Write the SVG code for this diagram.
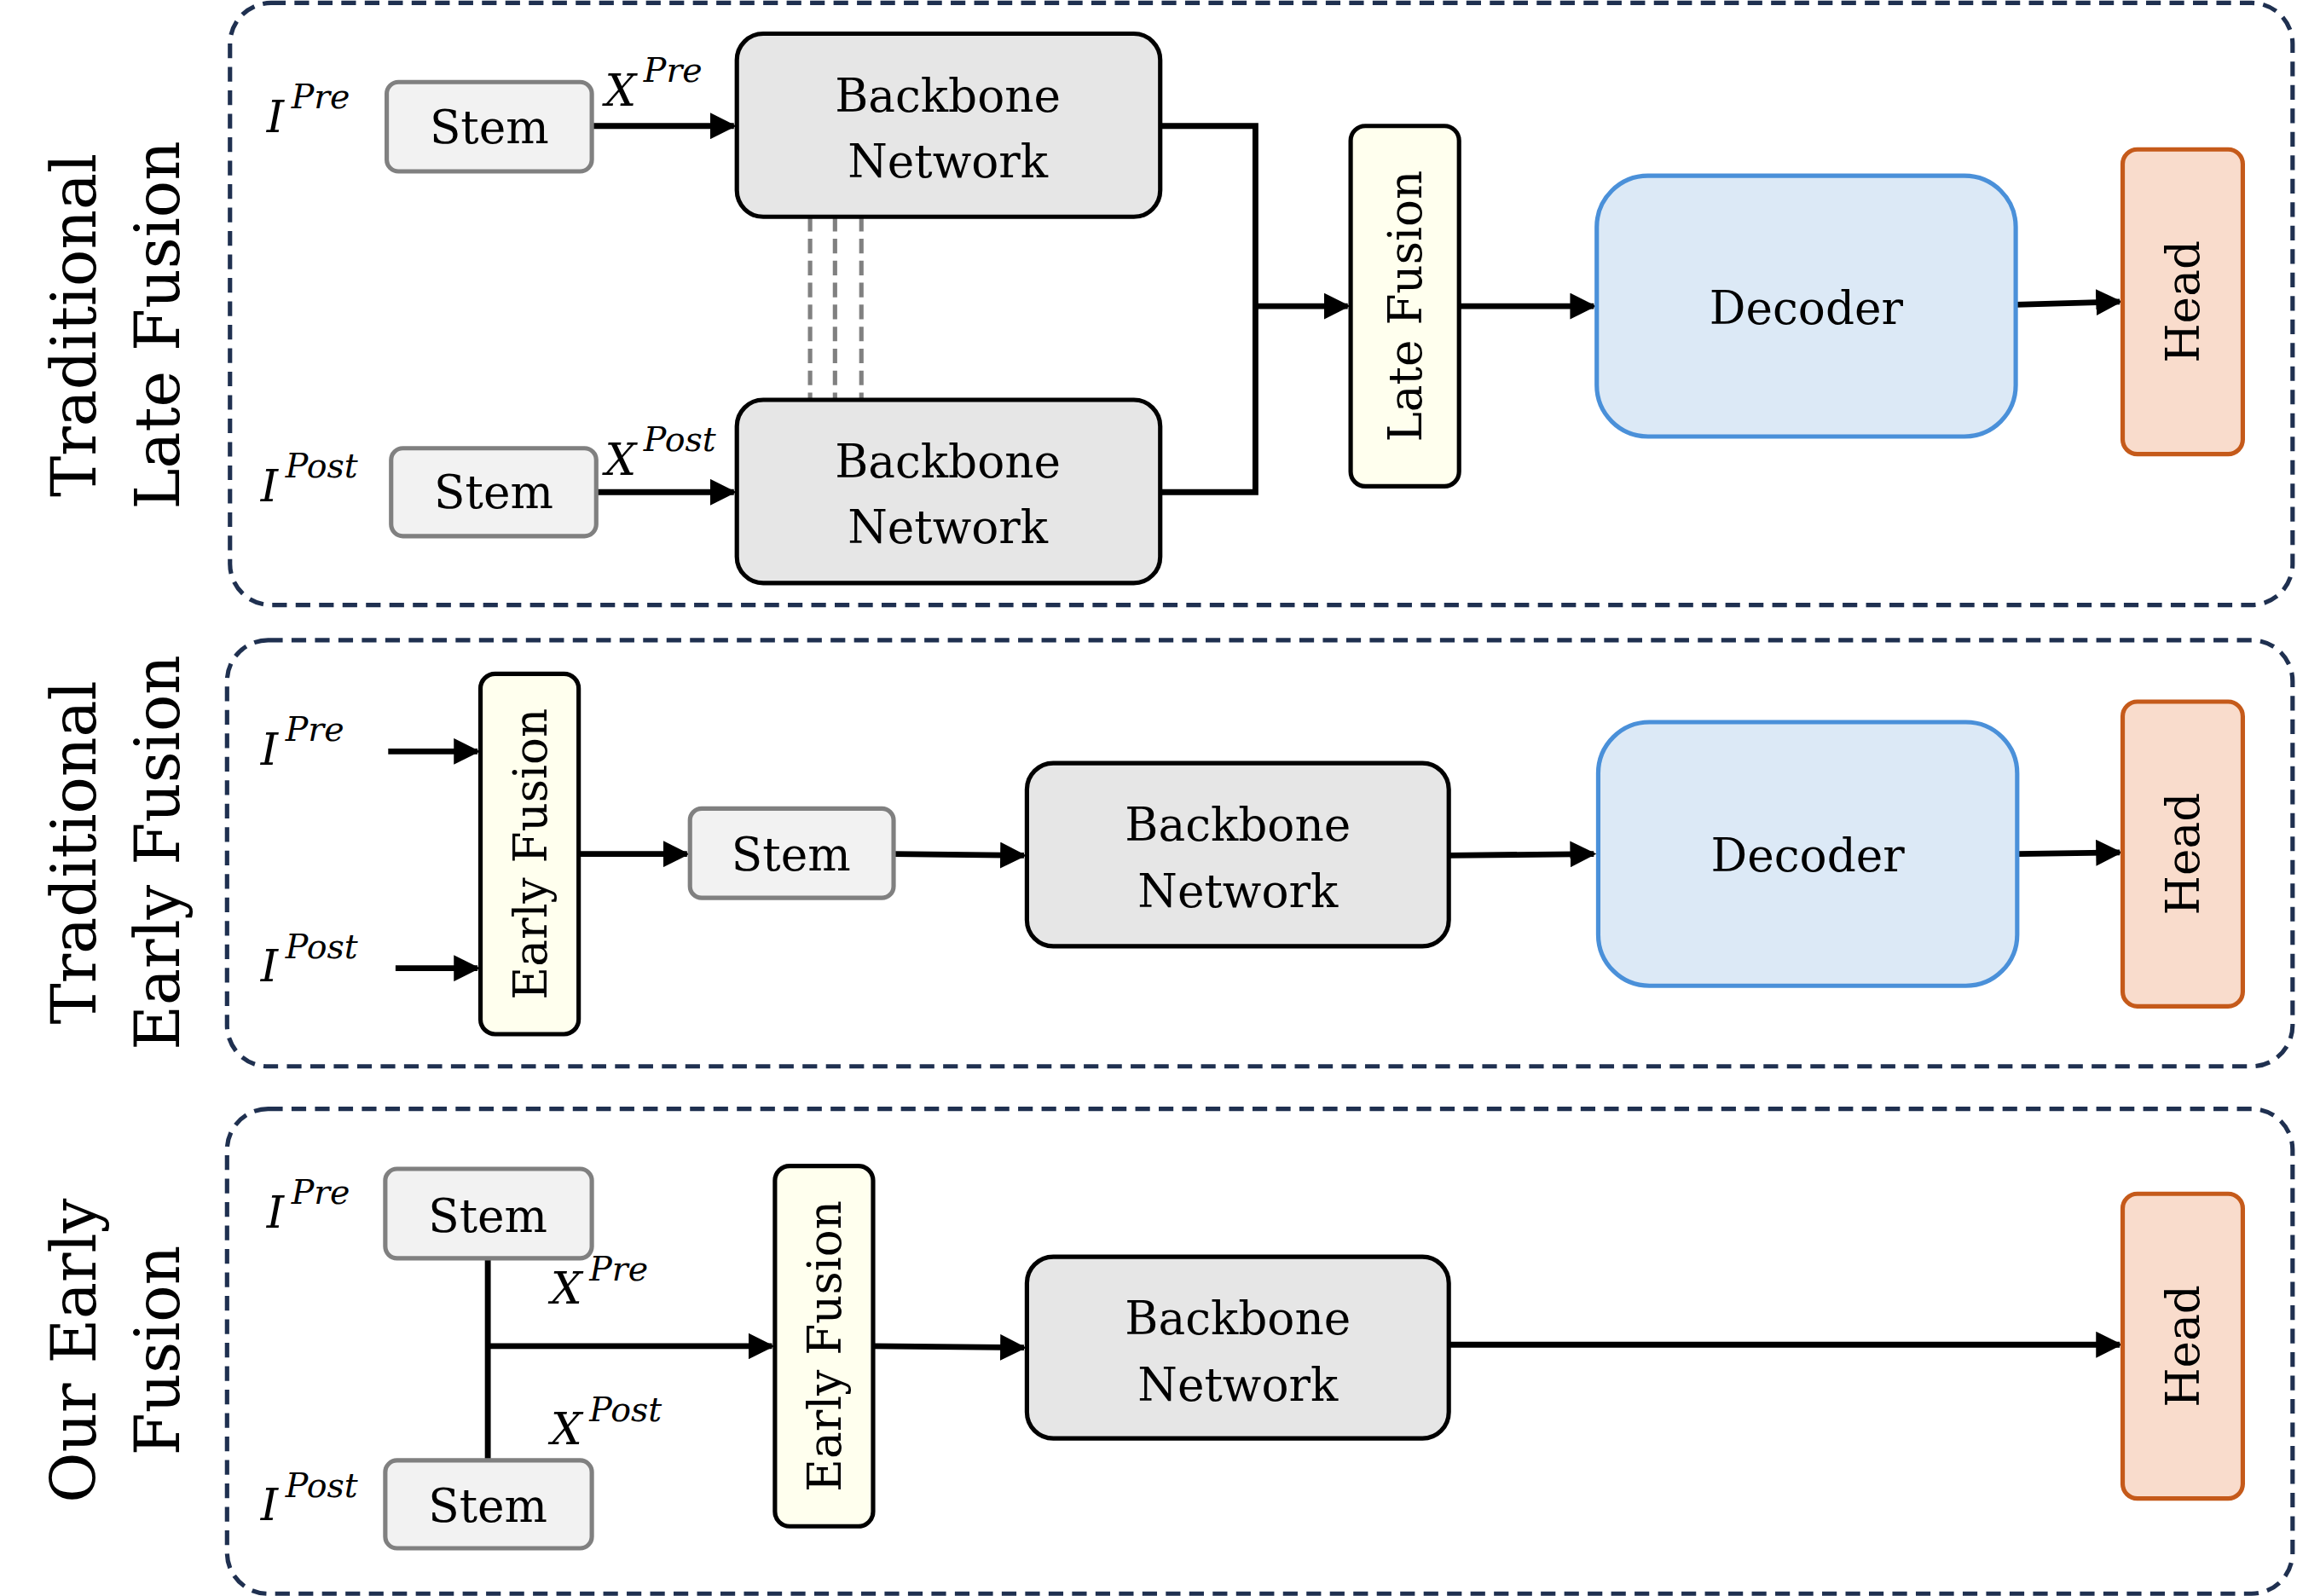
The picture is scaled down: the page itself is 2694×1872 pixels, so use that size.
<svg xmlns="http://www.w3.org/2000/svg" width="2694" height="1872" viewBox="0 0 2694 1872">
<style>
.panel{fill:none;stroke:#1f3050;stroke-width:3;stroke-dasharray:10 6}
.stem{fill:#f2f2f2;stroke:#808080;stroke-width:3}
.bb{fill:#e6e6e6;stroke:#000;stroke-width:3}
.fu{fill:#ffffee;stroke:#000;stroke-width:3}
.dec{fill:#dce9f6;stroke:#4a90d9;stroke-width:3}
.head{fill:#f9dccc;stroke:#c55a1a;stroke-width:3}
.t{font-family:"DejaVu Serif","Liberation Serif",serif;font-size:31px;text-anchor:middle;fill:#000}
.side{font-family:"DejaVu Serif","Liberation Serif",serif;font-size:42px;text-anchor:middle;fill:#000}
.m{font-family:"DejaVu Serif","Liberation Serif",serif;font-style:italic;font-size:30px;fill:#000}
.sup{font-size:23px}
.c{fill:none;stroke:#000;stroke-width:4}
.d{fill:none;stroke:#808080;stroke-width:3;stroke-dasharray:10 5}
</style>
<defs><marker id="a" viewBox="0 0 10 10" refX="9" refY="5" markerWidth="4.5" markerHeight="4.5" orient="auto" markerUnits="strokeWidth"><path d="M0,0L10,5L0,10z" fill="#000"/></marker></defs>
<g transform="scale(1.7181)">
<g id="panels">
<rect class="panel" x="157" y="2" width="1408" height="411" rx="28"/>
<rect class="panel" x="155" y="437" width="1410" height="291" rx="28"/>
<rect class="panel" x="155" y="757" width="1410" height="331" rx="28"/>
<text class="side" transform="translate(65,222) rotate(-90)">Traditional</text>
<text class="side" transform="translate(122,222) rotate(-90)">Late Fusion</text>
<text class="side" transform="translate(65,582) rotate(-90)">Traditional</text>
<text class="side" transform="translate(122,582) rotate(-90)">Early Fusion</text>
<text class="side" transform="translate(65,922) rotate(-90)">Our Early</text>
<text class="side" transform="translate(122,922) rotate(-90)">Fusion</text>
</g>
<g id="labels">
<text class="m" x="182" y="90">I<tspan class="sup" dx="5" dy="-16">Pre</tspan></text>
<text class="m" x="413" y="72">X<tspan class="sup" dx="5" dy="-16">Pre</tspan></text>
<text class="m" x="178" y="342">I<tspan class="sup" dx="5" dy="-16">Post</tspan></text>
<text class="m" x="413" y="324">X<tspan class="sup" dx="5" dy="-16">Post</tspan></text>
<text class="m" x="178" y="522">I<tspan class="sup" dx="5" dy="-16">Pre</tspan></text>
<text class="m" x="178" y="670">I<tspan class="sup" dx="5" dy="-16">Post</tspan></text>
<text class="m" x="182" y="838">I<tspan class="sup" dx="5" dy="-16">Pre</tspan></text>
<text class="m" x="376" y="890">X<tspan class="sup" dx="5" dy="-16">Pre</tspan></text>
<text class="m" x="376" y="986">X<tspan class="sup" dx="5" dy="-16">Post</tspan></text>
<text class="m" x="178" y="1038">I<tspan class="sup" dx="5" dy="-16">Post</tspan></text>
</g>
<g id="connectors">
<line class="c" x1="404" y1="86" x2="501" y2="86" marker-end="url(#a)"/>
<line class="c" x1="407" y1="336" x2="501" y2="336" marker-end="url(#a)"/>
<line class="d" x1="553" y1="148" x2="553" y2="273"/>
<line class="d" x1="570" y1="148" x2="570" y2="273"/>
<line class="d" x1="588" y1="148" x2="588" y2="273"/>
<polyline class="c" points="792,86 857,86 857,336 792,336"/>
<line class="c" x1="857" y1="209" x2="920" y2="209" marker-end="url(#a)"/>
<line class="c" x1="996" y1="209" x2="1088" y2="209" marker-end="url(#a)"/>
<line class="c" x1="1376" y1="208" x2="1447" y2="206" marker-end="url(#a)"/>
<line class="c" x1="265" y1="513" x2="326" y2="513" marker-end="url(#a)"/>
<line class="c" x1="270" y1="661" x2="326" y2="661" marker-end="url(#a)"/>
<line class="c" x1="395" y1="583" x2="469" y2="583" marker-end="url(#a)"/>
<line class="c" x1="610" y1="583" x2="699" y2="584" marker-end="url(#a)"/>
<line class="c" x1="989" y1="584" x2="1088" y2="583" marker-end="url(#a)"/>
<line class="c" x1="1377" y1="583" x2="1447" y2="582" marker-end="url(#a)"/>
<line class="c" x1="333" y1="859" x2="333" y2="997"/>
<line class="c" x1="333" y1="919" x2="527" y2="919" marker-end="url(#a)"/>
<line class="c" x1="596" y1="919" x2="699" y2="920" marker-end="url(#a)"/>
<line class="c" x1="989" y1="918" x2="1447" y2="918" marker-end="url(#a)"/>
</g>
<g id="stem1"><rect class="stem" x="264" y="56" width="140" height="61" rx="8"/><text class="t" x="334" y="98">Stem</text></g>
<g id="bb1"><rect class="bb" x="503" y="23" width="289" height="125" rx="18"/><text class="t" x="647" y="76">Backbone</text><text class="t" x="647" y="121">Network</text></g>
<g id="stem2"><rect class="stem" x="267" y="306" width="140" height="60" rx="8"/><text class="t" x="337" y="347">Stem</text></g>
<g id="bb2"><rect class="bb" x="503" y="273" width="289" height="125" rx="18"/><text class="t" x="647" y="326">Backbone</text><text class="t" x="647" y="371">Network</text></g>
<g id="latefusion"><rect class="fu" x="922" y="86" width="74" height="246" rx="10"/><text class="t" transform="translate(970,209) rotate(-90)">Late Fusion</text></g>
<g id="dec1"><rect class="dec" x="1090" y="120" width="286" height="178" rx="35"/><text class="t" x="1233" y="221">Decoder</text></g>
<g id="head1"><rect class="head" x="1449" y="102" width="82" height="208" rx="10"/><text class="t" transform="translate(1501,206) rotate(-90)">Head</text></g>
<g id="ef2"><rect class="fu" x="328" y="460" width="67" height="246" rx="10"/><text class="t" transform="translate(373,583) rotate(-90)">Early Fusion</text></g>
<g id="stem3"><rect class="stem" x="471" y="552" width="139" height="61" rx="8"/><text class="t" x="540" y="594">Stem</text></g>
<g id="bb3"><rect class="bb" x="701" y="521" width="288" height="125" rx="18"/><text class="t" x="845" y="574">Backbone</text><text class="t" x="845" y="619">Network</text></g>
<g id="dec2"><rect class="dec" x="1091" y="493" width="286" height="180" rx="35"/><text class="t" x="1234" y="595">Decoder</text></g>
<g id="head2"><rect class="head" x="1449" y="479" width="82" height="208" rx="10"/><text class="t" transform="translate(1501,583) rotate(-90)">Head</text></g>
<g id="stem4"><rect class="stem" x="263" y="798" width="141" height="61" rx="8"/><text class="t" x="333" y="841">Stem</text></g>
<g id="stem5"><rect class="stem" x="263" y="997" width="141" height="60" rx="8"/><text class="t" x="333" y="1039">Stem</text></g>
<g id="ef3"><rect class="fu" x="529" y="796" width="67" height="246" rx="10"/><text class="t" transform="translate(574,919) rotate(-90)">Early Fusion</text></g>
<g id="bb4"><rect class="bb" x="701" y="858" width="288" height="124" rx="18"/><text class="t" x="845" y="911">Backbone</text><text class="t" x="845" y="956">Network</text></g>
<g id="head3"><rect class="head" x="1449" y="815" width="82" height="208" rx="10"/><text class="t" transform="translate(1501,919) rotate(-90)">Head</text></g>
</g>
</svg>
